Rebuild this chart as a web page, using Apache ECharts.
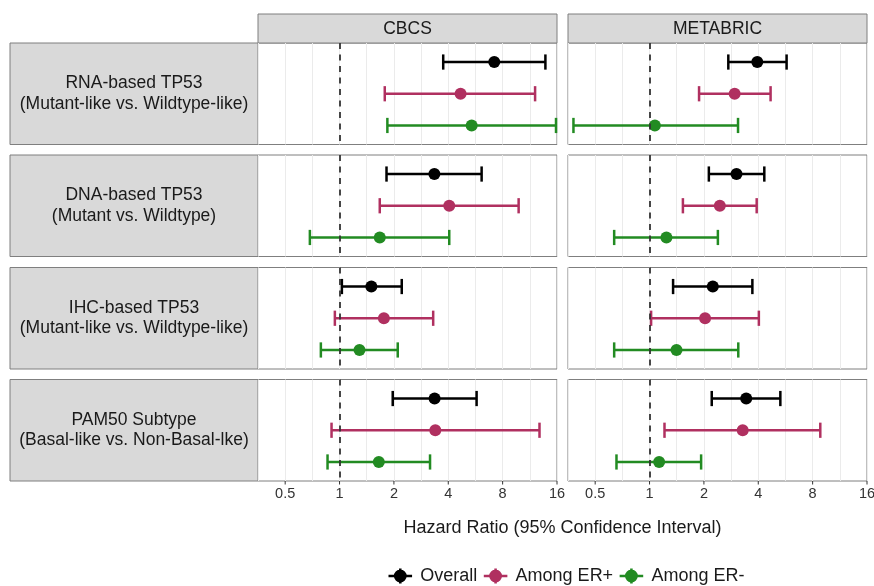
<!DOCTYPE html>
<html lang="en">
<head>
<meta charset="UTF-8">
<title>TP53 hazard ratios</title>
<script src="https://cdn.jsdelivr.net/npm/echarts@6/dist/echarts.min.js"></script>
<style>
  html, body { margin: 0; padding: 0; background: #fff; }
</style>
</head>
<body>
<div id="main" style="width: 874px; height: 586px;"></div>

<script type="text/javascript">
  // groups (rows inside each panel) and facets
  var groups = ['Overall', 'Among ER+', 'Among ER-'];
  var groupColors = ['#000000', '#B03060', '#228B22'];
  var cohorts = ['CBCS', 'METABRIC'];
  var rowLabels = [
    'RNA-based TP53\n(Mutant-like vs. Wildtype-like)',
    'DNA-based TP53\n(Mutant vs. Wildtype)',
    'IHC-based TP53\n(Mutant-like vs. Wildtype-like)',
    'PAM50 Subtype\n(Basal-like vs. Non-Basal-lke)'
  ];
  var tickLabels = [0.5, 1, 2, 4, 8, 16];

  // hazard ratio, lower, upper — [panel row][group]
  var cbcsHR = [[7.19, 4.68, 5.39], [3.35, 4.05, 1.67], [1.50, 1.76, 1.29], [3.36, 3.39, 1.65]];
  var cbcsLo = [[3.75, 1.78, 1.84], [1.82, 1.67, 0.685], [1.03, 0.942, 0.788], [1.97, 0.903, 0.858]];
  var cbcsHi = [[13.8, 12.1, 15.8], [6.12, 9.81, 4.05], [2.21, 3.30, 2.10], [5.74, 12.8, 3.17]];
  var metaHR = [[3.95, 2.96, 1.07], [3.03, 2.45, 1.24], [2.24, 2.03, 1.41], [3.43, 3.28, 1.13]];
  var metaLo = [[2.73, 1.88, 0.379], [2.13, 1.53, 0.637], [1.35, 1.02, 0.637], [2.21, 1.21, 0.656]];
  var metaHi = [[5.74, 4.68, 3.09], [4.32, 3.92, 2.39], [3.71, 4.03, 3.10], [5.30, 8.82, 1.93]];

  var FONT = '"Liberation Sans", Arial, Helvetica, sans-serif';
  var panelTops = [43, 155, 267.5, 379.5];
  var panelH = 101.5;
  var panelLefts = [258, 568];
  var panelW = 299;

  var myChart = echarts.init(document.getElementById('main'), null, { renderer: 'canvas' });

  var lg = function (v) { return Math.log(v) / Math.LN2; };

  var grids = [], xAxes = [], yAxes = [], series = [], graphics = [];
  var pointSeries = [], barSeries = [];

  for (var r = 0; r < 4; r++) {
    for (var c = 0; c < 2; c++) {
      var idx = grids.length;
      var bottom = (r === 3);
      grids.push({
        left: panelLefts[c], top: panelTops[r], width: panelW, height: panelH,
        outerBoundsMode: 'none', containLabel: false,
        show: true, backgroundColor: '#fff', borderColor: '#7f7f7f', borderWidth: 1
      });
      xAxes.push({
        gridIndex: idx, type: 'value', min: -1.5, max: 4, interval: 0.5,
        axisLine: { show: false },
        axisTick: { show: false },
        splitLine: { show: true, lineStyle: { color: '#EBEBEB', width: 1 } },
        axisLabel: {
          show: bottom, margin: 5, fontSize: 14.5, color: '#333', fontFamily: FONT,
          showMinLabel: true, showMaxLabel: true,
          formatter: function (v) {
            if (Math.abs(v - Math.round(v)) > 1e-6) return '';
            return String(tickLabels[Math.round(v) + 1]);
          }
        }
      });
      yAxes.push({ gridIndex: idx, type: 'value', min: 0.4, max: 3.6, inverse: true, show: false });

      var hr = c === 0 ? cbcsHR : metaHR;
      var lo = c === 0 ? cbcsLo : metaLo;
      var hi = c === 0 ? cbcsHi : metaHi;

      for (var g = 0; g < 3; g++) {
        pointSeries.push({
          name: groups[g], type: 'scatter', xAxisIndex: idx, yAxisIndex: idx,
          symbol: 'circle', symbolSize: 12, z: 4, silent: true,
          itemStyle: { color: groupColors[g], opacity: 1 },
          data: [[lg(hr[r][g]), g + 1]]
        });
        barSeries.push({
          name: groups[g], type: 'custom', xAxisIndex: idx, yAxisIndex: idx,
          z: 3, silent: true, clip: false,
          itemStyle: { color: groupColors[g] },
          data: [[lg(lo[r][g]), lg(hi[r][g]), g + 1]],
          renderItem: function (params, api) {
            var y = api.value(2);
            var a = api.coord([api.value(0), y]);
            var b = api.coord([api.value(1), y]);
            var h = api.size([0, 0.48])[1] / 2;
            var st = { stroke: api.visual('color'), lineWidth: 2.5 };
            return {
              type: 'group',
              children: [
                { type: 'line', shape: { x1: a[0], y1: a[1], x2: b[0], y2: b[1] }, style: st },
                { type: 'line', shape: { x1: a[0], y1: a[1] - h, x2: a[0], y2: a[1] + h }, style: st },
                { type: 'line', shape: { x1: b[0], y1: b[1] - h, x2: b[0], y2: b[1] + h }, style: st }
              ]
            };
          }
        });
      }

      // dashed reference line at HR = 1
      series.push({
        type: 'line', xAxisIndex: idx, yAxisIndex: idx, data: [], silent: true,
        markLine: {
          silent: true, symbol: 'none', label: { show: false }, animation: false,
          lineStyle: { type: [6, 5.5], color: '#333', width: 1.8 },
          data: [{ xAxis: 0 }]
        }
      });

      // small tick marks under the bottom panels
      if (bottom) {
        series.push({
          type: 'custom', xAxisIndex: idx, yAxisIndex: idx, clip: false, silent: true,
          data: [-1, 0, 1, 2, 3, 4].map(function (v) { return [v, 3.6]; }),
          renderItem: function (params, api) {
            var p = api.coord([api.value(0), api.value(1)]);
            return { type: 'line', shape: { x1: p[0], y1: p[1], x2: p[0], y2: p[1] + 3.5 },
                     style: { stroke: '#333', lineWidth: 1 } };
          }
        });
      }
    }
  }

  series = pointSeries.concat(barSeries).concat(series);

  // facet strips
  cohorts.forEach(function (name, c) {
    graphics.push({
      type: 'rect', shape: { x: panelLefts[c], y: 14, width: panelW, height: 29 },
      style: { fill: '#D9D9D9', stroke: '#7f7f7f', lineWidth: 1 }
    });
    graphics.push({
      type: 'text', x: panelLefts[c] + panelW / 2, y: 29,
      style: { text: name, fontSize: 17.5, fontFamily: FONT, fill: '#1a1a1a', align: 'center', verticalAlign: 'middle' }
    });
  });
  rowLabels.forEach(function (txt, r) {
    graphics.push({
      type: 'rect', shape: { x: 10, y: panelTops[r], width: 248, height: panelH },
      style: { fill: '#D9D9D9', stroke: '#7f7f7f', lineWidth: 1 }
    });
    graphics.push({
      type: 'text', x: 134, y: panelTops[r] + panelH / 2,
      style: { text: txt, fontSize: 17.5, lineHeight: 20.5, fontFamily: FONT, fill: '#1a1a1a', align: 'center', verticalAlign: 'middle' }
    });
  });
  graphics.push({
    type: 'text', x: 562.5, y: 528,
    style: { text: 'Hazard Ratio (95% Confidence Interval)', fontSize: 18, fontFamily: FONT, fill: '#1a1a1a', align: 'center', verticalAlign: 'middle' }
  });

  // legend glyph: point with cross-shaped error bar
  var glyph = 'path://M0 5.8H22V8.2H0Z M9.8 0H12.2V14H9.8Z M5 7A6 6 0 1 1 17 7A6 6 0 1 1 5 7Z';

  var option = {
    animation: false,
    backgroundColor: '#fff',
    textStyle: { fontFamily: FONT },
    grid: grids,
    xAxis: xAxes,
    yAxis: yAxes,
    legend: {
      left: 383.5, top: 562, orient: 'horizontal',
      itemWidth: 30, itemHeight: 15, itemGap: 6.5, selectedMode: false,
      textStyle: { fontSize: 18, color: '#1a1a1a', fontFamily: FONT },
      data: groups.map(function (n) { return { name: n, icon: glyph }; })
    },
    graphic: graphics,
    series: series
  };

  myChart.setOption(option);
</script>
</body>
</html>
